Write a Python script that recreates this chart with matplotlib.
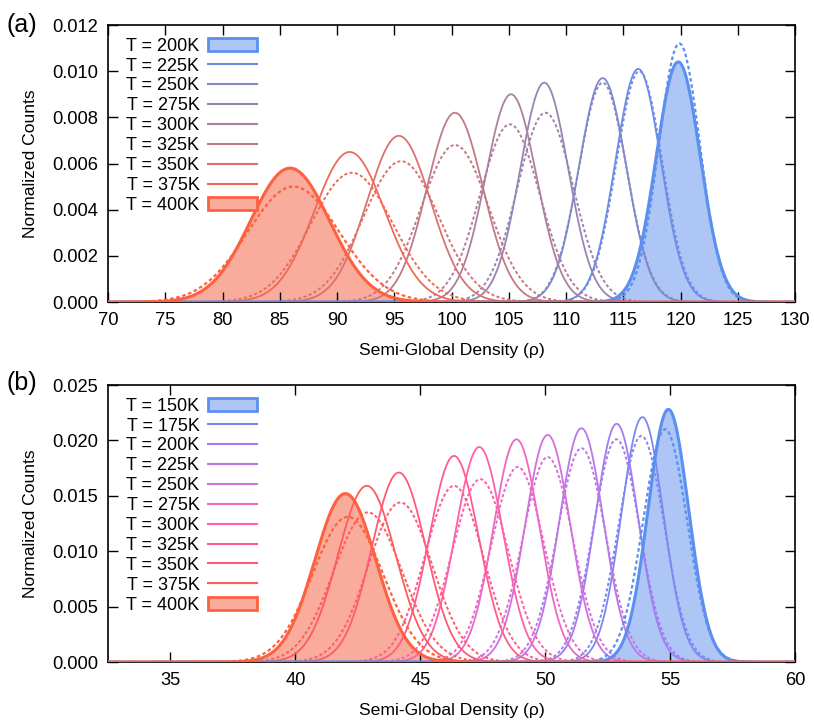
import numpy as np
import matplotlib
matplotlib.use("Agg")
import matplotlib.pyplot as plt
from matplotlib.lines import Line2D
from matplotlib.patches import Patch

plt.rcParams["font.family"] = ["Liberation Sans", "DejaVu Sans"]

# ---- panel (a) values ----
temps_a = [200, 225, 250, 275, 300, 325, 350, 375, 400]
center_a = [119.8, 116.3, 113.2, 108.1, 105.2, 100.3, 95.4, 91.1, 85.9]
peak_a = [0.0104, 0.0101, 0.0097, 0.0095, 0.0090, 0.0082, 0.0072, 0.0065, 0.0058]
sigma_a = [1.92, 1.98, 2.06, 2.10, 2.22, 2.44, 2.78, 3.08, 3.45]
center_a_dash = [119.9, 116.4, 113.2, 108.2, 105.1, 100.3, 95.6, 91.3, 86.2]
peak_a_dash = [0.0112, 0.0100, 0.0095, 0.0082, 0.0077, 0.0068, 0.0061, 0.0056, 0.0050]
sigma_a_dash = [1.80, 2.00, 2.10, 2.44, 2.60, 2.94, 3.28, 3.57, 4.00]
colors_a = ["#5b8ff0", "#6e8ce4", "#8088cc", "#9884b4", "#ad809e", "#c27a86",
            "#dc7270", "#ee6a58", "#ff6040"]

# ---- panel (b) values ----
temps_b = [150, 175, 200, 225, 250, 275, 300, 325, 350, 375, 400]
center_b = [54.93, 53.89, 52.86, 51.45, 50.1, 48.85, 47.36, 46.35, 44.14, 42.86, 42.0]
peak_b = [0.0228, 0.0221, 0.0215, 0.0211, 0.0205, 0.0201, 0.0194, 0.0186, 0.0171,
          0.0159, 0.0152]
sigma_b = [0.81, 0.84, 0.86, 0.88, 0.90, 0.92, 0.95, 0.99, 1.08, 1.16, 1.22]
center_b_dash = [54.8, 53.85, 52.85, 51.45, 50.1, 48.9, 47.4, 46.35, 44.2, 42.9, 42.1]
peak_b_dash = [0.0210, 0.0204, 0.0201, 0.0193, 0.0185, 0.0176, 0.0165, 0.0159, 0.0144,
               0.0135, 0.0131]
sigma_b_dash = [0.88, 0.91, 0.92, 0.96, 1.00, 1.05, 1.12, 1.16, 1.28, 1.37, 1.41]
colors_b = ["#5b8ff0", "#7c88f2", "#a07cf0", "#b978e6", "#d470dc", "#ec68c4",
            "#ff60a8", "#ff5c8c", "#ff5a74", "#ff5a5c", "#ff6040"]

FILL_LIGHT = {"#5b8ff0": "#aec6f6", "#ff6040": "#f9ab9c"}


def gauss(x, mu, h, s):
    return h * np.exp(-0.5 * ((x - mu) / s) ** 2)


def draw_panel(ax, xlim, temps, centers, peaks, sigmas, c_dash, p_dash, s_dash, colors):
    x = np.linspace(xlim[0], xlim[1], 2000)
    n = len(temps)
    handles = []
    for i in range(n):
        col = colors[i]
        y = gauss(x, centers[i], peaks[i], sigmas[i])
        yd = gauss(x, c_dash[i], p_dash[i], s_dash[i])
        filled = i == 0 or i == n - 1
        # the hottest curve sits on top, as in the original
        z = 4 if i == n - 1 else (3 if filled else 2)
        if filled:
            ax.fill_between(x, 0, y, color=FILL_LIGHT[col], lw=0, zorder=1)
            ax.plot(x, y, color=col, lw=2.2, zorder=z)
            ax.plot(x, yd, color=col, lw=1.6, ls=(0, (1.6, 1.2)), zorder=z)
            handles.append(Patch(facecolor=FILL_LIGHT[col], edgecolor=col, lw=2))
        else:
            ax.plot(x, y, color=col, lw=1.3, zorder=z)
            ax.plot(x, yd, color=col, lw=1.4, ls=(0, (1.6, 1.2)), zorder=z)
            handles.append(Line2D([], [], color=col, lw=1.5))
    labels = [f"T = {t}K" for t in temps]
    ax.legend(handles, labels, loc="upper left", frameon=False, markerfirst=False,
              fontsize=13, handlelength=2.71, handletextpad=0.5, labelspacing=0.16,
              borderaxespad=0.3, bbox_to_anchor=(0.008, 1.0))
    ax.set_xlim(*xlim)
    ax.tick_params(direction="in", top=True, right=True, length=7, width=1,
                   labelsize=13.2, pad=7)
    for sp in ax.spines.values():
        sp.set_linewidth(1.2)
    ax.set_xlabel("Semi-Global Density (ρ)", fontsize=12.6, labelpad=10)
    ax.set_ylabel("Normalized Counts", fontsize=12.6, labelpad=10)


fig = plt.figure(figsize=(8.14, 7.21), dpi=100)
ax_a = fig.add_axes([0.1327, 0.5811, 0.844, 0.3842])
ax_b = fig.add_axes([0.1327, 0.0818, 0.844, 0.3842])

draw_panel(ax_a, (70, 130), temps_a, center_a, peak_a, sigma_a,
           center_a_dash, peak_a_dash, sigma_a_dash, colors_a)
ax_a.set_ylim(0, 0.012)
ax_a.set_yticks(np.arange(0, 0.0121, 0.002))
ax_a.set_yticklabels([f"{v:.3f}" for v in np.arange(0, 0.0121, 0.002)])
ax_a.set_xticks(np.arange(70, 131, 5))

draw_panel(ax_b, (32.5, 60), temps_b, center_b, peak_b, sigma_b,
           center_b_dash, peak_b_dash, sigma_b_dash, colors_b)
ax_b.set_ylim(0, 0.025)
ax_b.set_yticks(np.arange(0, 0.0251, 0.005))
ax_b.set_yticklabels([f"{v:.3f}" for v in np.arange(0, 0.0251, 0.005)])
ax_b.set_xticks(np.arange(35, 61, 5))

fig.text(0.008, 0.965, "(a)", fontsize=18, va="center", ha="left")
fig.text(0.008, 0.469, "(b)", fontsize=18, va="center", ha="left")

fig.savefig("out.png", dpi=100)
